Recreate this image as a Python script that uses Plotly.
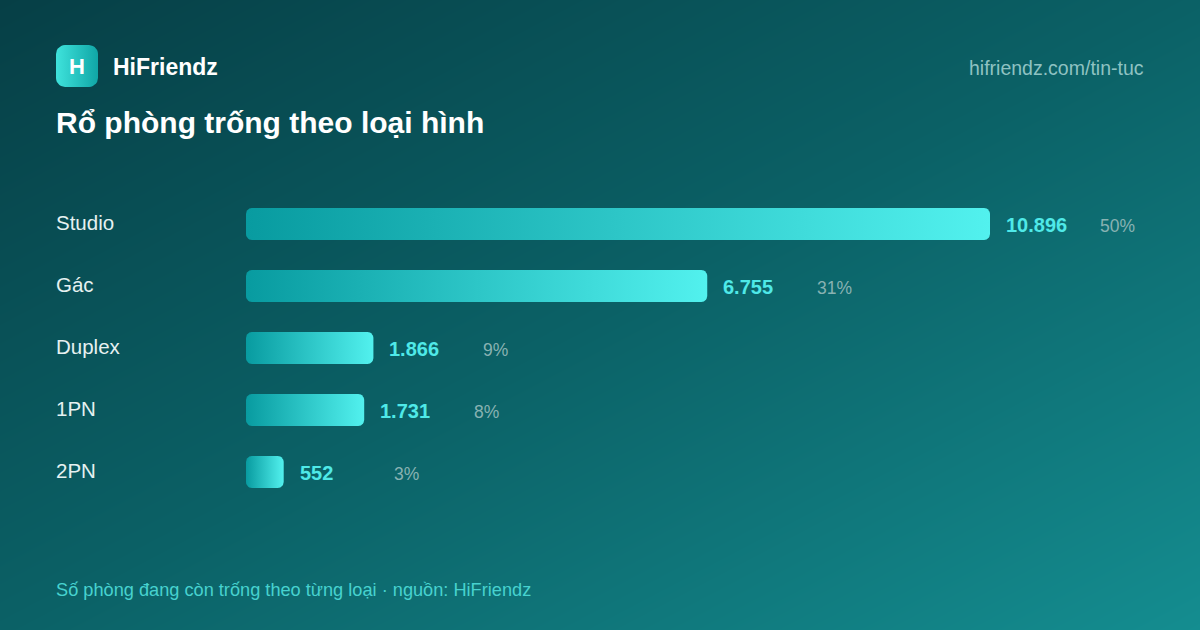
import numpy as np
import plotly.graph_objects as go

categories = ["Studio", "Gác", "Duplex", "1PN", "2PN"]
rooms = [10896, 6755, 1866, 1731, 552]

W, H = 1200, 630
FONT = "Liberation Sans, Arial, sans-serif"

# layout in pixels
bar_x0 = 246
px_per_unit = (990 - bar_x0) / max(rooms)
row_top = 224
row_step = 62
bar_half = 16
radius = 6


def rounded_rect(x0, x1, y0, y1, rx, ry, n=8):
    t = np.linspace(0, np.pi / 2, n)
    xs, ys = [], []
    for cx, cy, a0 in [(x1 - rx, y0 + ry, -np.pi / 2), (x1 - rx, y1 - ry, 0),
                       (x0 + rx, y1 - ry, np.pi / 2), (x0 + rx, y0 + ry, np.pi)]:
        ang = a0 + t
        xs += list(cx + rx * np.cos(ang))
        ys += list(cy + ry * np.sin(ang))
    xs.append(xs[0])
    ys.append(ys[0])
    return xs, ys


fig = go.Figure()

# background diagonal gradient on a full-page pixel axis (x/y, drawn first)
gx = np.linspace(0, W, 25)
gy = np.linspace(0, H, 15)
gz = gx[None, :] / W + gy[:, None] / H
fig.add_trace(go.Heatmap(
    x=gx, y=gy, z=gz, zsmooth="best", showscale=False, hoverinfo="skip",
    colorscale=[[0, "#063f46"], [0.5, "#0b6166"], [1, "#148d90"]],
))

# logo
lx, ly = rounded_rect(56, 98, 45, 87, 9, 9)
fig.add_trace(go.Scatter(
    x=lx, y=ly, mode="lines", line=dict(width=0),
    fill="toself", hoverinfo="skip", showlegend=False,
    fillgradient=dict(type="horizontal", colorscale=[[0, "#3fe3dc"], [1, "#10a6a6"]]),
))

# bars on the data axes (x2/y2, drawn on top)
rx = radius / px_per_unit
ry = radius / row_step
hh = bar_half / row_step
for i, v in enumerate(rooms):
    xs, ys = rounded_rect(0, v, i - hh, i + hh, rx, ry)
    fig.add_trace(go.Scatter(
        x=xs, y=ys, xaxis="x2", yaxis="y2", mode="lines", line=dict(width=0), fill="toself",
        fillgradient=dict(type="horizontal", colorscale=[[0, "#089ba0"], [1, "#52f1ee"]]),
        hoverinfo="skip", showlegend=False,
    ))

total = sum(rooms)
ann = []
for i, (c, v) in enumerate(zip(categories, rooms)):
    ann.append(dict(x=56 / W, xref="paper", y=i - 0.03, yref="y2", text=c, showarrow=False,
                    xanchor="left", xshift=-2, font=dict(family=FONT, size=20.5, color="#e6f1f1")))
    ann.append(dict(x=v, xref="x2", y=i + 0.01, yref="y2", text=f"<b>{v:,}</b>".replace(",", "."),
                    showarrow=False, xanchor="left", xshift=14,
                    font=dict(family=FONT, size=20, color="#4fe9e8")))
    ann.append(dict(x=v, xref="x2", y=i + 0.03, yref="y2", text=f"{round(100 * v / total)}%",
                    showarrow=False, xanchor="left", xshift=108,
                    font=dict(family=FONT, size=17.5, color="#88b2b2")))

ann += [
    dict(x=77, y=66, xref="x", yref="y", text="<b>H</b>", showarrow=False,
         font=dict(family=FONT, size=22, color="white")),
    dict(x=111, y=67, xref="x", yref="y", text="<b>HiFriendz</b>", showarrow=False,
         xanchor="left", font=dict(family=FONT, size=23, color="white")),
    dict(x=1146, y=68, xref="x", yref="y", text="hifriendz.com/tin-tuc", showarrow=False,
         xanchor="right", font=dict(family=FONT, size=19.5, color="#8fc2c2")),
    dict(x=54, y=122, xref="x", yref="y", text="<b>Rổ phòng trống theo loại hình</b>",
         showarrow=False, xanchor="left", font=dict(family=FONT, size=30, color="white")),
    dict(x=54, y=590, xref="x", yref="y",
         text="Số phòng đang còn trống theo từng loại · nguồn: HiFriendz",
         showarrow=False, xanchor="left", font=dict(family=FONT, size=18.2, color="#47d2cf")),
]

fig.update_layout(
    width=W, height=H, margin=dict(l=0, r=0, t=0, b=0),
    paper_bgcolor="#063f46", plot_bgcolor="rgba(0,0,0,0)", showlegend=False,
    xaxis=dict(domain=[0, 1], range=[0, W], visible=False, fixedrange=True),
    yaxis=dict(domain=[0, 1], range=[H, 0], visible=False, fixedrange=True),
    xaxis2=dict(domain=[bar_x0 / W, 1], range=[0, (W - bar_x0) / px_per_unit], visible=False,
                fixedrange=True, anchor="y2"),
    yaxis2=dict(domain=[0, 1], range=[(H - row_top) / row_step, -row_top / row_step], visible=False,
                fixedrange=True, anchor="x2"),
    annotations=ann,
)

fig.write_html("out.html", config={"displayModeBar": False},
               post_script="document.body.style.margin='0';document.body.style.overflow='hidden';")
